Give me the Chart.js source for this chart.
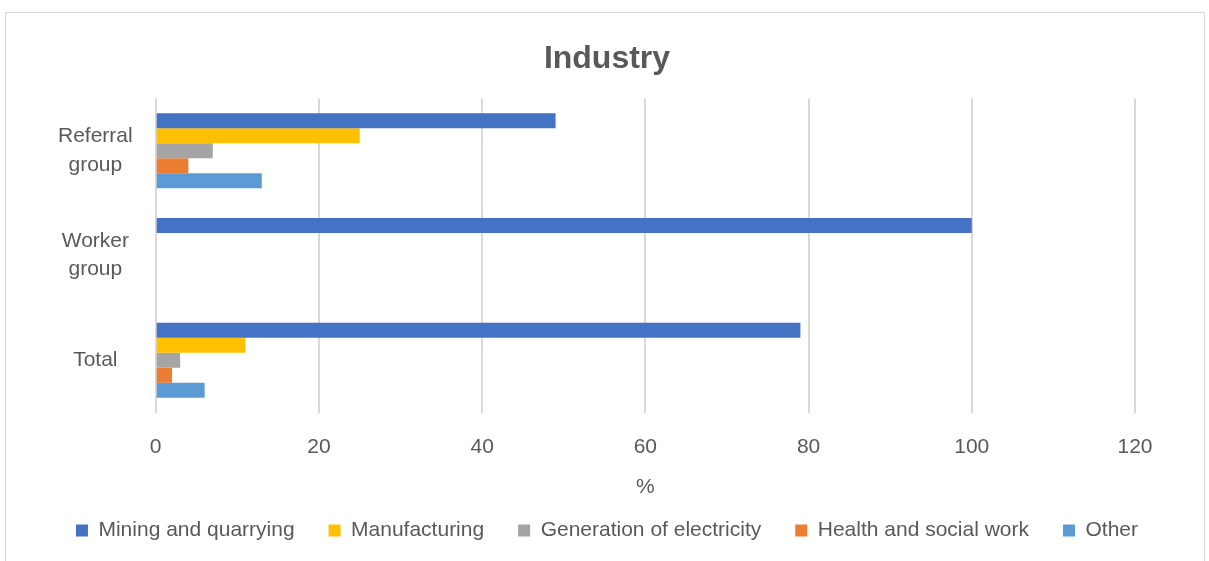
<!DOCTYPE html>
<html>
<head>
<meta charset="utf-8">
<script src="https://cdn.jsdelivr.net/npm/chart.js@4"></script>
<style>
  body { margin: 0; background: #fff; overflow: hidden; }
  #box {
    position: absolute;
    left: 5px;
    top: 12px;
    width: 1200px;
    height: 556px;
    border: 1px solid #d9d9d9;
    box-sizing: border-box;
  }
</style>
</head>
<body>
<div id="box"><canvas id="chart"></canvas></div>
<script>
const categories = [['Referral', 'group'], ['Worker', 'group'], 'Total'];
const mining = [49, 100, 79];
const manufacturing = [25, 0, 11];
const electricity = [7, 0, 3];
const health = [4, 0, 2];
const other = [13, 0, 6];
const xTicks = [0, 20, 40, 60, 80, 100, 120];

const textColor = '#595959';
const font = "'Liberation Sans', Arial, sans-serif";

new Chart(document.getElementById('chart').getContext('2d'), {
    type: 'bar',
    data: {
        labels: categories,
        datasets: [
            { label: 'Mining and quarrying', data: mining, backgroundColor: '#4472C4' },
            { label: 'Manufacturing', data: manufacturing, backgroundColor: '#FFC000' },
            { label: 'Generation of electricity', data: electricity, backgroundColor: '#A5A5A5' },
            { label: 'Health and social work', data: health, backgroundColor: '#ED7D31' },
            { label: 'Other', data: other, backgroundColor: '#5B9BD5' }
        ]
    },
    options: {
        indexAxis: 'y',
        responsive: true,
        maintainAspectRatio: false,
        animation: false,
        categoryPercentage: 0.715,
        barPercentage: 1,
        layout: { padding: { left: 22, right: 18, top: 5, bottom: 16 } },
        scales: {
            x: {
                min: 0,
                max: 120,
                afterBuildTicks: (axis) => { axis.ticks = xTicks.map(v => ({ value: v })); },
                grid: { color: '#d9d9d9', lineWidth: 2, drawTicks: false },
                border: { display: false },
                ticks: { color: textColor, padding: 22, font: { family: font, size: 21 } },
                title: {
                    display: true,
                    text: '%',
                    color: textColor,
                    padding: { top: -7, bottom: -14 },
                    font: { family: font, size: 21 }
                }
            },
            y: {
                afterFit: (axis) => { axis.width += 7; },
                grid: { display: false, drawTicks: false },
                border: { display: false },
                ticks: {
                    color: textColor,
                    padding: 23,
                    crossAlign: 'center',
                    font: { family: font, size: 21, lineHeight: 1.35 }
                }
            },
            // empty right-hand space, as in the original chart
            yRight: {
                type: 'linear',
                position: 'right',
                afterFit: (axis) => { axis.width = 51; },
                grid: { display: false, drawTicks: false },
                border: { display: false },
                ticks: { display: false }
            }
        },
        plugins: {
            title: {
                display: true,
                text: 'Industry',
                color: textColor,
                padding: { top: 22, bottom: 20 },
                font: { family: font, size: 32, weight: 'bold' }
            },
            legend: {
                position: 'bottom',
                labels: {
                    color: textColor,
                    boxWidth: 12,
                    boxHeight: 12,
                    padding: 34,
                    font: { family: font, size: 21 }
                }
            },
            tooltip: { enabled: false }
        }
    }
});
</script>
</body>
</html>
